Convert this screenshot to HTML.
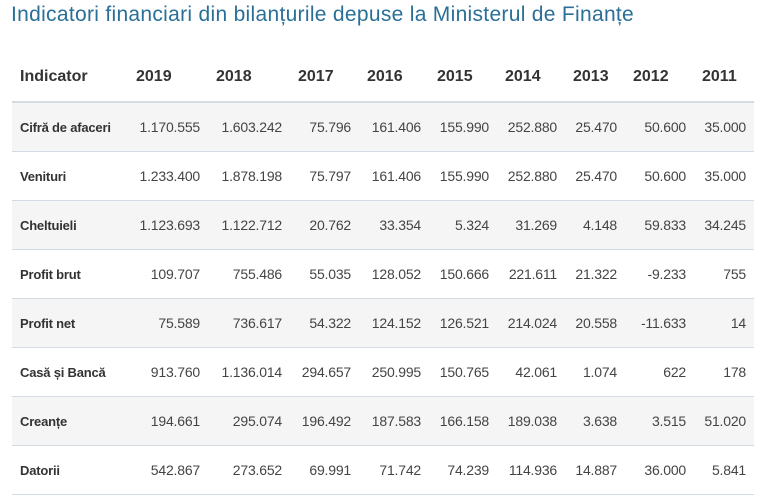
<!DOCTYPE html>
<html><head><meta charset="utf-8"><style>
body{margin:0;background:#fff;width:771px;height:503px;overflow:hidden;font-family:"Liberation Sans",sans-serif;color:#333}
h1{position:absolute;left:11px;top:3px;margin:0;font-weight:normal;font-size:21px;color:#2a6f97;letter-spacing:0.3px}
table{position:absolute;left:12px;top:53px;border-collapse:collapse;table-layout:fixed;width:742px}
th{height:48px;text-align:left;font-size:16px;font-weight:bold;padding:0 0 0 8px;border-bottom:2px solid #d5dbe3;color:#333}
td{height:48px;font-size:14px;text-align:right;padding:0 8px 0 0;border-bottom:1px solid #d5dbe3;color:#444;letter-spacing:-0.2px}
td:first-child{text-align:left;padding:0 0 0 8px;font-weight:bold;font-size:13px;color:#333}
tbody tr:nth-child(odd){background:#f5f5f5}
</style></head><body>
<h1>Indicatori financiari din bilanțurile depuse la Ministerul de Finanțe</h1>
<table>
<colgroup><col style="width:116px"><col style="width:80px"><col style="width:82px"><col style="width:69px"><col style="width:70px"><col style="width:68px"><col style="width:68px"><col style="width:60px"><col style="width:69px"><col style="width:60px"></colgroup>
<thead><tr><th>Indicator</th><th>2019</th><th>2018</th><th>2017</th><th>2016</th><th>2015</th><th>2014</th><th>2013</th><th>2012</th><th>2011</th></tr></thead>
<tbody>
<tr><td>Cifră de afaceri</td><td>1.170.555</td><td>1.603.242</td><td>75.796</td><td>161.406</td><td>155.990</td><td>252.880</td><td>25.470</td><td>50.600</td><td>35.000</td></tr>
<tr><td>Venituri</td><td>1.233.400</td><td>1.878.198</td><td>75.797</td><td>161.406</td><td>155.990</td><td>252.880</td><td>25.470</td><td>50.600</td><td>35.000</td></tr>
<tr><td>Cheltuieli</td><td>1.123.693</td><td>1.122.712</td><td>20.762</td><td>33.354</td><td>5.324</td><td>31.269</td><td>4.148</td><td>59.833</td><td>34.245</td></tr>
<tr><td>Profit brut</td><td>109.707</td><td>755.486</td><td>55.035</td><td>128.052</td><td>150.666</td><td>221.611</td><td>21.322</td><td>-9.233</td><td>755</td></tr>
<tr><td>Profit net</td><td>75.589</td><td>736.617</td><td>54.322</td><td>124.152</td><td>126.521</td><td>214.024</td><td>20.558</td><td>-11.633</td><td>14</td></tr>
<tr><td>Casă și Bancă</td><td>913.760</td><td>1.136.014</td><td>294.657</td><td>250.995</td><td>150.765</td><td>42.061</td><td>1.074</td><td>622</td><td>178</td></tr>
<tr><td>Creanțe</td><td>194.661</td><td>295.074</td><td>196.492</td><td>187.583</td><td>166.158</td><td>189.038</td><td>3.638</td><td>3.515</td><td>51.020</td></tr>
<tr><td>Datorii</td><td>542.867</td><td>273.652</td><td>69.991</td><td>71.742</td><td>74.239</td><td>114.936</td><td>14.887</td><td>36.000</td><td>5.841</td></tr>
</tbody></table>
</body></html>
